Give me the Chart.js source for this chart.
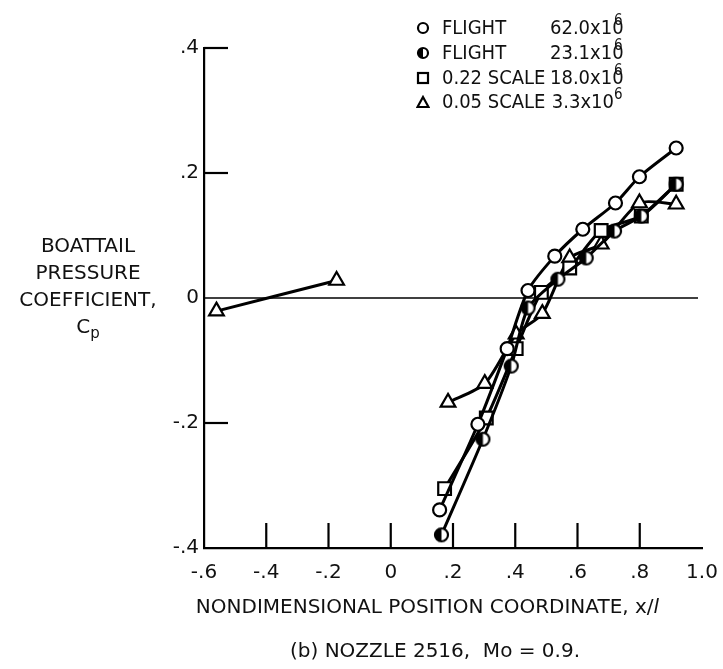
<html>
<head>
<script src="https://cdn.jsdelivr.net/npm/chart.js@4"></script>
<style>
body{margin:0;background:#fff;}
#wrap{position:relative;width:723px;height:669px;font-family:"DejaVu Sans",sans-serif;color:#111;}
#cp{position:absolute;left:0;top:0;}
.t{position:absolute;font-size:20px;white-space:nowrap;line-height:1;}
#ytitle{left:18px;top:232px;width:140px;text-align:center;line-height:27px;}
#xtitle{left:0;width:855px;top:596px;text-align:center;}
#caption{left:0;width:870px;top:640px;text-align:center;}
.lg{position:absolute;left:416px;font-family:"DejaVu Sans Condensed","DejaVu Sans",sans-serif;font-size:20px;line-height:1;white-space:nowrap;}
.lg svg{display:inline-block;vertical-align:-1px;margin-right:12px;}
.lg .n{display:inline-block;width:108px;}
.lg .v{display:inline-block;width:64px;text-align:right;}
sup{font-size:15px;vertical-align:9px;}
</style>
</head>
<body>
<div id="wrap">
<canvas id="cp" width="723" height="669"></canvas>
<div id="ytitle" class="t">BOATTAIL<br>PRESSURE<br>COEFFICIENT,<br>C<sub style="font-size:15px">p</sub></div>
<div id="xtitle" class="t">NONDIMENSIONAL POSITION COORDINATE, x/<i>l</i></div>
<div id="caption" class="t">(b) NOZZLE 2516,&nbsp; Mo = 0.9.</div>
<div class="lg" style="top:13px"><svg width="14" height="14"><circle cx="7" cy="7" r="5" fill="#fff" stroke="#000" stroke-width="2.2"/></svg><span class="n">FLIGHT</span><span class="v">62.0x10</span><sup>6</sup></div>
<div class="lg" style="top:38px"><svg width="14" height="14"><circle cx="7" cy="7" r="5" fill="#fff" stroke="#000" stroke-width="2.2"/><path d="M7 2 A5 5 0 0 0 7 12 Z" fill="#000"/></svg><span class="n">FLIGHT</span><span class="v">23.1x10</span><sup>6</sup></div>
<div class="lg" style="top:63px"><svg width="14" height="14"><rect x="2" y="2" width="10" height="10" fill="#fff" stroke="#000" stroke-width="2.2"/></svg><span class="n">0.22 SCALE</span><span class="v">18.0x10</span><sup>6</sup></div>
<div class="lg" style="top:87px"><svg width="14" height="14"><path d="M7 2 L12.5 12 L1.5 12 Z" fill="#fff" stroke="#000" stroke-width="2.2"/></svg><span class="n">0.05 SCALE</span><span class="v">3.3x10</span><sup>6</sup></div>
</div>
<script>
// flight, Re 62.0x10^6 (open circles)
var flight62X = [0.157, 0.280, 0.374, 0.441, 0.527, 0.617, 0.722, 0.799, 0.917];
var flight62Y = [-0.339, -0.202, -0.081, 0.012, 0.067, 0.110, 0.152, 0.194, 0.240];
// flight, Re 23.1x10^6 (half filled circles)
var flight23X = [0.163, 0.296, 0.387, 0.441, 0.537, 0.628, 0.719, 0.805, 0.917];
var flight23Y = [-0.379, -0.226, -0.109, -0.016, 0.030, 0.064, 0.107, 0.131, 0.182];
// 0.22 scale model (squares)
var scale22X = [0.173, 0.307, 0.403, 0.484, 0.575, 0.676, 0.805, 0.917];
var scale22Y = [-0.305, -0.192, -0.081, 0.009, 0.048, 0.108, 0.131, 0.182];
// 0.05 scale model (triangles) - two separate runs
var scale05OuterX = [-0.56, -0.174];
var scale05OuterY = [-0.021, 0.028];
var scale05X = [0.184, 0.302, 0.403, 0.487, 0.575, 0.676, 0.799, 0.917];
var scale05Y = [-0.167, -0.137, -0.058, -0.025, 0.064, 0.086, 0.152, 0.150];

var xTicks = [-0.6, -0.4, -0.2, 0, 0.2, 0.4, 0.6, 0.8, 1.0];
var yTicks = [-0.4, -0.2, 0, 0.2, 0.4];

function pts(xs, ys){ return xs.map(function(x,i){ return {x:x, y:ys[i]}; }); }
function fmt(v){
  if (Math.abs(v) < 1e-9) return '0';
  var s = Math.abs(v).toFixed(1);
  if (s[0] == '0') s = s.slice(1);
  return (v < 0 ? '-' : '') + s;
}
function halfCircle(r){
  var c = document.createElement('canvas');
  var s = Math.ceil(2*r + 4);
  c.width = s; c.height = s;
  var g = c.getContext('2d');
  g.fillStyle = '#fff';
  g.beginPath(); g.arc(s/2, s/2, r, 0, 2*Math.PI); g.fill();
  g.fillStyle = '#000';
  g.beginPath(); g.arc(s/2, s/2, r, Math.PI/2, 3*Math.PI/2); g.closePath(); g.fill();
  g.lineWidth = 2.2;
  g.beginPath(); g.arc(s/2, s/2, r, 0, 2*Math.PI); g.stroke();
  return c;
}

function ds(data, style, radius){
  return {data:data, pointStyle:style, pointRadius:radius, pointHoverRadius:radius,
    borderColor:'#000', backgroundColor:'#fff', pointBackgroundColor:'#fff', pointBorderColor:'#000',
    pointBorderWidth:2.2, borderWidth:3, tension:0.25, showLine:true, fill:false};
}

// short inside ticks and the zero line
var axisDeco = {
  id:'axisDeco',
  beforeDatasetsDraw:function(chart){
    var c = chart.ctx, a = chart.chartArea, xs = chart.scales.x, ys = chart.scales.y;
    c.save();
    c.strokeStyle = '#000';
    c.lineWidth = 1.3;
    var y0 = ys.getPixelForValue(0);
    c.beginPath(); c.moveTo(a.left, y0); c.lineTo(a.right - 4, y0); c.stroke();
    c.lineWidth = 2.2;
    yTicks.forEach(function(v){
      if (v == 0 || v == -0.4) return;
      var p = ys.getPixelForValue(v);
      c.beginPath(); c.moveTo(a.left, p); c.lineTo(a.left + 24, p); c.stroke();
    });
    xTicks.forEach(function(v){
      if (v == -0.6 || v == 1.0) return;
      var p = xs.getPixelForValue(v);
      c.beginPath(); c.moveTo(p, a.bottom); c.lineTo(p, a.bottom - 25); c.stroke();
    });
    c.restore();
  }
};

var tickFont = {family:'"DejaVu Sans",sans-serif', size:20};

new Chart(document.getElementById('cp').getContext('2d'), {
  type:'line',
  data:{datasets:[
    ds(pts(flight62X, flight62Y), 'circle', 6.5),
    ds(pts(flight23X, flight23Y), halfCircle(6.5), 6.5),
    ds(pts(scale22X, scale22Y), 'rect', 9),
    ds(pts(scale05X, scale05Y), 'triangle', 8.5),
    ds(pts(scale05OuterX, scale05OuterY), 'triangle', 8.5)
  ]},
  options:{
    responsive:false, animation:false, events:[],
    layout:{padding:{left:0, top:48, right:21, bottom:0}},
    plugins:{legend:{display:false}, tooltip:{enabled:false}},
    scales:{
      x:{type:'linear', min:-0.6, max:1.0,
        afterBuildTicks:function(s){ s.ticks = xTicks.map(function(v){return {value:v};}); },
        afterFit:function(s){ s.height = 121; s.paddingLeft = 0; s.paddingRight = 0; },
        grid:{display:false, drawTicks:false},
        border:{display:true, color:'#000', width:2.2},
        ticks:{color:'#111', font:tickFont, padding:13, maxRotation:0, autoSkip:false, callback:fmt}},
      y:{type:'linear', min:-0.4, max:0.4,
        afterBuildTicks:function(s){ s.ticks = yTicks.map(function(v){return {value:v};}); },
        afterFit:function(s){ s.width = 204; s.paddingTop = 0; s.paddingBottom = 0; },
        grid:{display:false, drawTicks:false},
        border:{display:true, color:'#000', width:2.2},
        ticks:{color:'#111', font:tickFont, padding:5, autoSkip:false, callback:fmt}}
    },
    clip:false
  },
  plugins:[axisDeco]
});
</script>
</body>
</html>
